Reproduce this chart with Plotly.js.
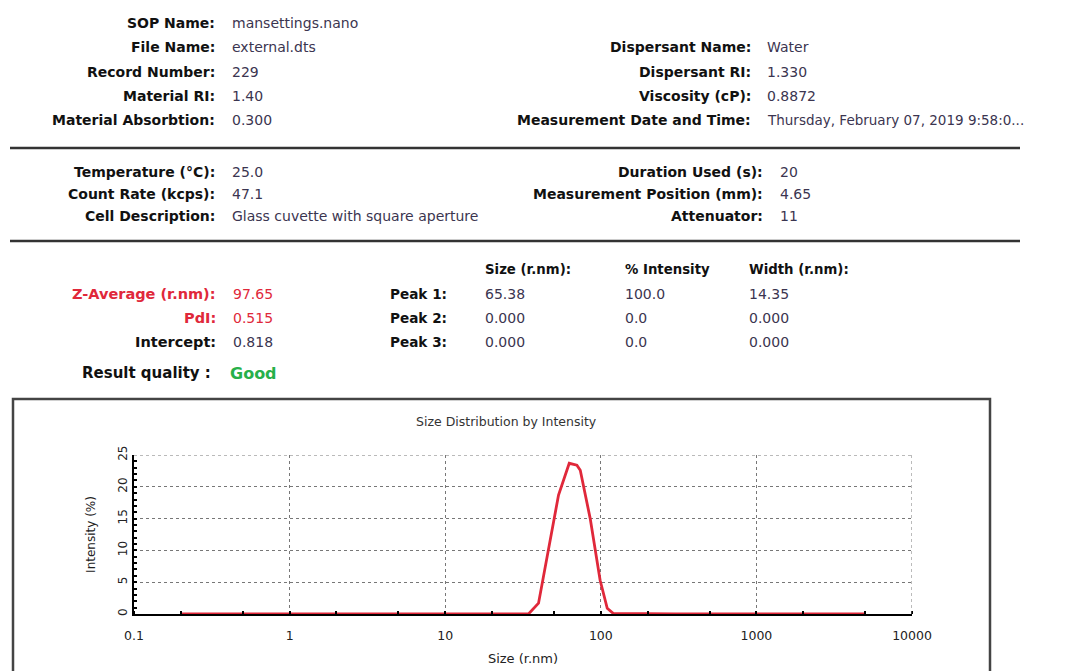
<!DOCTYPE html>
<html>
<head>
<meta charset="utf-8">
<script src="https://cdn.plot.ly/plotly-3.0.1.min.js"></script>
<style>
html,body{margin:0;padding:0;background:#fff;}
#chart{width:1072px;height:671px;}
</style>
</head>
<body>
<div id="chart"></div>
<script>
// ---- Data ----
const sizes = [0.2, 0.4, 1, 5, 20, 34.3, 39.8, 46.2, 53.5, 62.7, 70.2, 73.8, 85.5, 99, 110, 120, 300, 1000, 5000];
const intensity = [0, 0, 0, 0, 0, 0, 1.7, 10.1, 18.7, 23.7, 23.4, 22.6, 15.0, 5.3, 0.9, 0.1, 0, 0, 0];

const xTickVals = [0.1, 1, 10, 100, 1000, 10000];
const xTickText = ["0.1", "1", "10", "100", "1000", "10000"];
const yTickVals = [0, 5, 10, 15, 20, 25];

const infoLeft = [
  ["SOP Name:", "mansettings.nano"],
  ["File Name:", "external.dts"],
  ["Record Number:", "229"],
  ["Material RI:", "1.40"],
  ["Material Absorbtion:", "0.300"]
];
const infoRight = [
  ["Dispersant Name:", "Water"],
  ["Dispersant RI:", "1.330"],
  ["Viscosity (cP):", "0.8872"],
  ["Measurement Date and Time:", "Thursday, February 07, 2019 9:58:0..."]
];
const condLeft = [
  ["Temperature (°C):", "25.0"],
  ["Count Rate (kcps):", "47.1"],
  ["Cell Description:", "Glass cuvette with square aperture"]
];
const condRight = [
  ["Duration Used (s):", "20"],
  ["Measurement Position (mm):", "4.65"],
  ["Attenuator:", "11"]
];
const resultLeft = [
  ["Z-Average (r.nm):", "97.65", "red"],
  ["PdI:", "0.515", "red"],
  ["Intercept:", "0.818", "normal"]
];
const peakHeaders = ["Size (r.nm):", "% Intensity", "Width (r.nm):"];
const peakNames = ["Peak 1:", "Peak 2:", "Peak 3:"];
const peakSize = ["65.38", "0.000", "0.000"];
const peakInt = ["100.0", "0.0", "0.0"];
const peakWidth = ["14.35", "0.000", "0.000"];

// ---- Layout geometry (pixels) ----
const W = 1072, H = 671;
const PL = 134, PR = 912, PT = 455, PB = 614;
const px = x => (x - PL) / (PR - PL);
const py = y => (PB - y) / (PB - PT);

const FONT = "DejaVu Sans, Verdana, sans-serif";
const LBL = "#111111", VAL = "#3b3550", RED = "#e0283a", GREEN = "#27b04a";

const ann = [];
function T(text, x, y, anchor, size, color, bold) {
  ann.push({
    text: bold ? "<b>" + text + "</b>" : text,
    xref: "paper", yref: "paper", x: px(x), y: py(y),
    xanchor: anchor, yanchor: "middle", showarrow: false,
    font: {family: FONT, size: size, color: color}
  });
}

// header block
const rowsY1 = [23, 47, 72, 96, 120];
infoLeft.forEach((r, i) => { T(r[0], 217, rowsY1[i], "right", 14, LBL, true); T(r[1], 230, rowsY1[i], "left", 14, VAL, false); });
infoRight.forEach((r, i) => {
  T(r[0], 753, rowsY1[i + 1], "right", 14, LBL, true);
  T(r[1], 765, rowsY1[i + 1], "left", i === 3 ? 13.5 : 14, VAL, false);
});

const rowsY2 = [172, 194, 216];
condLeft.forEach((r, i) => { T(r[0], 217, rowsY2[i], "right", 14, LBL, true); T(r[1], 230, rowsY2[i], "left", 14, VAL, false); });
condRight.forEach((r, i) => { T(r[0], 765, rowsY2[i], "right", 14, LBL, true); T(r[1], 778, rowsY2[i], "left", 14, VAL, false); });

const rowsY3 = [294, 318, 342];
resultLeft.forEach((r, i) => {
  const c = r[2] === "red" ? RED : LBL;
  const v = r[2] === "red" ? RED : VAL;
  T(r[0], 218, rowsY3[i], "right", 14.5, c, true);
  T(r[1], 231, rowsY3[i], "left", 14, v, false);
});
T("Result quality :", 80, 373, "left", 15, LBL, true);
T("Good", 228, 373, "left", 16, GREEN, true);

const colX = [483, 623, 747];
peakHeaders.forEach((h, i) => T(h, colX[i], 269, "left", 13.3, LBL, true));
peakNames.forEach((n, i) => {
  T(n, 388, rowsY3[i], "left", 13.6, LBL, true);
  T(peakSize[i], colX[0], rowsY3[i], "left", 14, VAL, false);
  T(peakInt[i], colX[1], rowsY3[i], "left", 14, VAL, false);
  T(peakWidth[i], colX[2], rowsY3[i], "left", 14, VAL, false);
});

// chart title
T("Size Distribution by Intensity", 506, 421, "center", 12.5, "#333", false);

const shapes = [
  {type: "line", xref: "paper", yref: "paper", x0: px(10), x1: px(1020), y0: py(148), y1: py(148), line: {color: "#333", width: 2.5}},
  {type: "line", xref: "paper", yref: "paper", x0: px(10), x1: px(1020), y0: py(241), y1: py(241), line: {color: "#333", width: 2.5}},
  {type: "rect", xref: "paper", yref: "paper", x0: px(13), x1: px(990), y0: py(399), y1: py(680), line: {color: "#444", width: 2.5}, fillcolor: "rgba(0,0,0,0)"},
  // grid lines at the edges of the plotting area (top = 25, right = 10000)
  {type: "line", xref: "paper", yref: "y", x0: 0, x1: 1, y0: 25, y1: 25, line: {color: "#777", width: 1, dash: "dot"}},
  {type: "line", xref: "x", yref: "paper", x0: 10000, x1: 10000, y0: 0, y1: 1, line: {color: "#777", width: 1, dash: "dot"}}
];

const trace = {
  x: sizes, y: intensity, type: "scatter", mode: "lines",
  line: {color: RED, width: 2.8}, hoverinfo: "x+y"
};

const layout = {
  width: W, height: H,
  margin: {l: PL, r: W - PR, t: PT, b: H - PB, pad: 0},
  paper_bgcolor: "#ffffff", plot_bgcolor: "#ffffff",
  showlegend: false,
  xaxis: {
    type: "log", range: [-1, 4], tickvals: xTickVals, ticktext: xTickText,
    showgrid: true, gridcolor: "#777", griddash: "dot", gridwidth: 1,
    showline: true, linecolor: "#000", linewidth: 2, zeroline: false,
    ticks: "", ticklabelstandoff: 9, tickfont: {family: FONT, size: 12.5, color: "#222"},
    minor: {ticks: "inside", ticklen: 3, tickcolor: "#000", tickwidth: 2, showgrid: false},
    title: {text: "Size (r.nm)", font: {family: FONT, size: 13, color: "#222"}, standoff: 12},
    mirror: false
  },
  yaxis: {
    range: [0, 25], tickvals: yTickVals, showgrid: true, gridcolor: "#777", griddash: "dot", gridwidth: 1,
    showline: true, linecolor: "#000", linewidth: 2, zeroline: false,
    ticks: "inside", ticklen: 3, tickcolor: "#000", tickwidth: 2, tickangle: -90,
    tickfont: {family: FONT, size: 12, color: "#222"},
    minor: {dtick: 1, ticks: "inside", ticklen: 3, tickcolor: "#000", tickwidth: 2, showgrid: false},
    title: {text: "Intensity (%)", font: {family: FONT, size: 12, color: "#222"}, standoff: 18}
  },
  shapes: shapes,
  annotations: ann
};

Plotly.newPlot("chart", [trace], layout, {displayModeBar: false, staticPlot: true});
</script>
</body>
</html>
